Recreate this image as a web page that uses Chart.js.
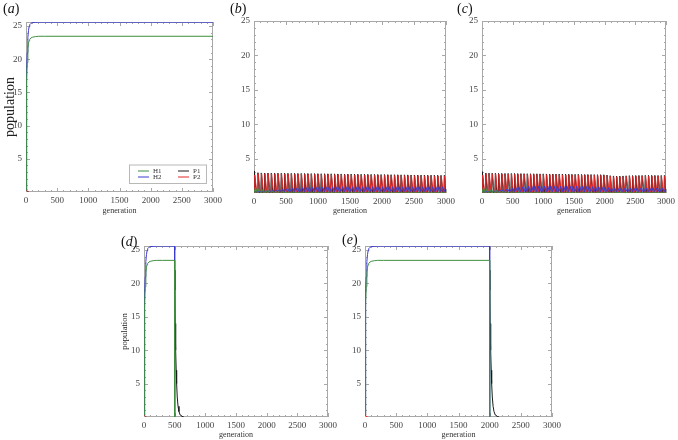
<!DOCTYPE html>
<html>
<head>
<meta charset="utf-8">
<script src="https://cdn.jsdelivr.net/npm/chart.js@4.4.1/dist/chart.umd.min.js"></script>
<style>
  body { margin: 0; background: #fff; width: 678px; height: 440px; position: relative; overflow: hidden; }
  .panel { position: absolute; }
  .tag { position: absolute; font: 14px "Liberation Serif", serif; color: #111; line-height: 1; }
</style>
</head>
<body>
<div class="panel" style="left:0;top:0;width:226px;height:216px"><canvas id="ca"></canvas></div>
<div class="panel" style="left:226px;top:0;width:232px;height:216px"><canvas id="cb"></canvas></div>
<div class="panel" style="left:458px;top:0;width:220px;height:216px"><canvas id="cc"></canvas></div>
<div class="panel" style="left:110px;top:216px;width:230px;height:224px"><canvas id="cd"></canvas></div>
<div class="panel" style="left:340px;top:216px;width:230px;height:224px"><canvas id="ce"></canvas></div>
<span class="tag" style="left:3px;top:2px">(<i>a</i>)</span>
<span class="tag" style="left:230px;top:2px">(<i>b</i>)</span>
<span class="tag" style="left:457px;top:2px">(<i>c</i>)</span>
<span class="tag" style="left:121px;top:235px">(<i>d</i>)</span>
<span class="tag" style="left:342px;top:233px">(<i>e</i>)</span>
<script>
// axis ticks
const xMajor = [0, 500, 1000, 1500, 2000, 2500, 3000];
const xMinor = [100, 200, 300, 400, 600, 700, 800, 900, 1100, 1200, 1300, 1400, 1600, 1700, 1800, 1900, 2100, 2200, 2300, 2400, 2600, 2700, 2800, 2900];
const yMajor = [5, 10, 15, 20, 25];
const yMinor = [1, 2, 3, 4, 6, 7, 8, 9, 11, 12, 13, 14, 16, 17, 18, 19, 21, 22, 23, 24];

// panel (a): approach to equilibrium
const genA = [0, 5, 10, 15, 20, 30, 40, 50, 60, 80, 100, 150, 200, 300, 3000];
const h1A = [0.3, 8, 13.5, 17, 19.5, 21.6, 22.4, 22.8, 23.0, 23.2, 23.3, 23.4, 23.45, 23.45, 23.45];
const h2A = [0.3, 9, 15, 18.5, 21, 23.3, 24.3, 24.9, 25.2, 25.4, 25.5, 25.55, 25.58, 25.58, 25.58];
const genP = [0, 5, 10, 15, 20, 30, 40];
const p1A = [0.3, 0.4, 0.3, 0.2, 0.1, 0.05, 0];
const p2A = [0.3, 0.4, 0.3, 0.2, 0.1, 0.05, 0];

// panels (d) and (e): hosts removed at a given generation
const genD = [0, 5, 10, 15, 20, 30, 40, 50, 60, 80, 100, 150, 200, 300, 500, 500];
const h1D = [0.3, 8, 13.5, 17, 19.5, 21.6, 22.4, 22.8, 23.0, 23.2, 23.3, 23.4, 23.45, 23.45, 23.45, 0];
const h2D = [0.3, 9, 15, 18.5, 21, 23.3, 24.3, 24.9, 25.2, 25.4, 25.5, 25.55, 25.58, 25.58, 25.58, 0];
const blackGenD = [500, 503, 508, 516, 525, 532, 542, 555, 570, 590, 620, 650];
const blackD = [22, 19, 14, 10, 7, 5, 3, 1.6, 0.8, 0.3, 0.1, 0];
const genE = [0, 5, 10, 15, 20, 30, 40, 50, 60, 80, 100, 150, 200, 300, 2000, 2000];
const blackGenE = [2000, 2003, 2008, 2016, 2025, 2032, 2042, 2055, 2070, 2090, 2120, 2150];

// panels (b) and (c): oscillation peaks per cycle
const peakGen = [10, 62, 114, 166, 218, 270, 322, 374, 426, 478, 530, 582, 634, 686, 738, 790, 842, 894, 946, 998,
  1050, 1102, 1154, 1206, 1258, 1310, 1362, 1414, 1466, 1518, 1570, 1622, 1674, 1726, 1778, 1830, 1882, 1934, 1986,
  2038, 2090, 2142, 2194, 2246, 2298, 2350, 2402, 2454, 2506, 2558, 2610, 2662, 2714, 2766, 2818, 2870, 2922, 2974];
const bP1 = [3.2, 2.95, 2.92, 2.9, 2.9, 2.89, 2.88, 2.88, 2.87, 2.87, 2.86, 2.85, 2.85, 2.84, 2.84, 2.83, 2.83, 2.82, 2.82, 2.81,
  2.8, 2.8, 2.79, 2.79, 2.78, 2.77, 2.77, 2.76, 2.75, 2.75, 2.74, 2.73, 2.72, 2.72, 2.71, 2.7, 2.7, 2.69, 2.68, 2.68,
  2.67, 2.66, 2.66, 2.65, 2.64, 2.64, 2.63, 2.62, 2.62, 2.61, 2.6, 2.6, 2.59, 2.59, 2.58, 2.58, 2.57, 2.57];
const bP2 = [2.6, 2.8, 2.82, 2.8, 2.8, 2.79, 2.78, 2.78, 2.77, 2.77, 2.76, 2.75, 2.75, 2.74, 2.74, 2.73, 2.73, 2.72, 2.72, 2.71,
  2.7, 2.7, 2.69, 2.69, 2.68, 2.67, 2.67, 2.66, 2.65, 2.65, 2.64, 2.63, 2.62, 2.62, 2.61, 2.6, 2.6, 2.59, 2.58, 2.58,
  2.57, 2.56, 2.56, 2.55, 2.54, 2.54, 2.53, 2.52, 2.52, 2.51, 2.5, 2.5, 2.49, 2.49, 2.48, 2.48, 2.47, 2.47];
const bH1 = [0.8, 0.6, 0.5, 0.42, 0.36, 0.3, 0.26, 0.22, 0.19, 0.16, 0.14, 0.12, 0.1, 0.09, 0.08, 0.07, 0.06, 0.05, 0.05, 0.05,
  0.05, 0.05, 0.05, 0.05, 0.05, 0.05, 0.05, 0.05, 0.05, 0.05, 0.05, 0.05, 0.05, 0.05, 0.05, 0.05, 0.05, 0.05, 0.05, 0.05,
  0.05, 0.05, 0.05, 0.05, 0.05, 0.05, 0.05, 0.05, 0.05, 0.05, 0.05, 0.05, 0.05, 0.05, 0.05, 0.05, 0.05, 0.05];
const bH2 = [0.15, 0.2, 0.25, 0.3, 0.35, 0.4, 0.45, 0.5, 0.55, 0.6, 0.65, 0.7, 0.72, 0.75, 0.78, 0.8, 0.82, 0.84, 0.85, 0.86,
  0.87, 0.88, 0.88, 0.89, 0.89, 0.9, 0.9, 0.9, 0.9, 0.9, 0.9, 0.9, 0.9, 0.9, 0.9, 0.9, 0.9, 0.9, 0.9, 0.9,
  0.9, 0.9, 0.9, 0.9, 0.9, 0.9, 0.9, 0.9, 0.9, 0.9, 0.9, 0.9, 0.9, 0.9, 0.9, 0.9, 0.9, 0.9];
const cP1 = [3.1, 2.9, 2.88, 2.87, 2.86, 2.85, 2.85, 2.84, 2.84, 2.83, 2.83, 2.82, 2.82, 2.81, 2.8, 2.8, 2.79, 2.79, 2.78, 2.78,
  2.77, 2.76, 2.76, 2.75, 2.75, 2.74, 2.73, 2.73, 2.72, 2.71, 2.71, 2.7, 2.69, 2.69, 2.68, 2.67, 2.66, 2.66, 2.65, 2.6,
  2.52, 2.48, 2.46, 2.46, 2.48, 2.5, 2.52, 2.53, 2.54, 2.55, 2.55, 2.56, 2.56, 2.56, 2.56, 2.55, 2.55, 2.55];
const cP2 = [2.6, 2.8, 2.78, 2.77, 2.76, 2.75, 2.75, 2.74, 2.74, 2.73, 2.73, 2.72, 2.72, 2.71, 2.7, 2.7, 2.69, 2.69, 2.68, 2.68,
  2.67, 2.66, 2.66, 2.65, 2.65, 2.64, 2.63, 2.63, 2.62, 2.61, 2.61, 2.6, 2.59, 2.59, 2.58, 2.57, 2.56, 2.56, 2.55, 2.5,
  2.42, 2.38, 2.36, 2.36, 2.38, 2.4, 2.42, 2.43, 2.44, 2.45, 2.45, 2.46, 2.46, 2.46, 2.46, 2.45, 2.45, 2.45];
const cH1 = [0.8, 0.6, 0.5, 0.42, 0.36, 0.3, 0.26, 0.22, 0.19, 0.16, 0.14, 0.12, 0.1, 0.09, 0.08, 0.07, 0.06, 0.05, 0.05, 0.05,
  0.05, 0.05, 0.05, 0.05, 0.05, 0.05, 0.05, 0.05, 0.05, 0.05, 0.05, 0.05, 0.05, 0.05, 0.05, 0.05, 0.05, 0.05, 0.05, 0.08,
  0.12, 0.15, 0.16, 0.15, 0.13, 0.1, 0.08, 0.07, 0.06, 0.06, 0.06, 0.06, 0.06, 0.06, 0.06, 0.06, 0.06, 0.06];
const cH2 = [0.15, 0.2, 0.25, 0.3, 0.35, 0.42, 0.5, 0.58, 0.65, 0.72, 0.78, 0.84, 0.88, 0.92, 0.95, 0.97, 0.99, 1.0, 1.0, 1.0,
  1.0, 1.0, 1.0, 1.0, 1.0, 1.0, 1.0, 1.0, 1.0, 1.0, 1.0, 0.98, 0.96, 0.94, 0.92, 0.9, 0.88, 0.85, 0.82, 0.78,
  0.72, 0.68, 0.66, 0.66, 0.67, 0.68, 0.69, 0.7, 0.7, 0.7, 0.7, 0.7, 0.7, 0.7, 0.7, 0.7, 0.7, 0.7];

const colors = { H1: '#3f8f3f', H2: '#3a3ad0', P1: '#1a1a1a', P2: '#e02828' };
const serif = '"Liberation Serif", "DejaVu Serif", serif';

function pts(xs, ys) { return xs.map((x, i) => ({ x, y: ys[i] })); }

// one spike per cycle: trough before, peak, trough after
function spikes(gens, heights, rise, shift, fall, base) {
  const out = [{ x: 0, y: base }];
  gens.forEach((g, i) => {
    out.push({ x: g + shift - rise, y: base }, { x: g + shift, y: heights[i] }, { x: g + shift + fall, y: base });
  });
  out.push({ x: 3000, y: base });
  return out;
}

function series(h1, h2, p1, p2) {
  return [
    { label: 'H1', data: h1, borderColor: colors.H1, order: 0 },
    { label: 'H2', data: h2, borderColor: colors.H2, order: 1 },
    { label: 'P1', data: p1, borderColor: colors.P1, order: 3 },
    { label: 'P2', data: p2, borderColor: colors.P2, order: 2 }
  ];
}

const framePlugin = {
  id: 'frame',
  beforeDatasetsDraw(chart) {
    const { ctx, chartArea: a, scales: { x, y } } = chart;
    ctx.save();
    ctx.strokeStyle = '#a8a8a8';
    ctx.lineWidth = 1;
    ctx.strokeRect(Math.round(a.left) + 0.5, Math.round(a.top) + 0.5, Math.round(a.width) - 1, Math.round(a.height) - 1);
    ctx.beginPath();
    const tx = (v, len) => {
      const px = Math.round(x.getPixelForValue(v)) + 0.5;
      ctx.moveTo(px, a.bottom); ctx.lineTo(px, a.bottom - len);
      ctx.moveTo(px, a.top); ctx.lineTo(px, a.top + len);
    };
    const ty = (v, len) => {
      const py = Math.round(y.getPixelForValue(v)) + 0.5;
      ctx.moveTo(a.left, py); ctx.lineTo(a.left + len, py);
      ctx.moveTo(a.right, py); ctx.lineTo(a.right - len, py);
    };
    xMajor.forEach(v => tx(v, 4));
    xMinor.forEach(v => tx(v, 2));
    yMajor.forEach(v => { if (v <= y.max) ty(v, 4); });
    yMinor.forEach(v => ty(v, 2));
    ctx.stroke();
    ctx.restore();
  }
};

// two-column boxed legend, lower right of panel (a)
const legendPlugin = {
  id: 'boxLegend',
  afterDraw(chart) {
    const { ctx, chartArea: a } = chart;
    const ds = chart.data.datasets;
    const bx = a.right - 84, by = a.bottom - 27.5, bw = 77, bh = 18.5;
    ctx.save();
    ctx.fillStyle = '#fff';
    ctx.fillRect(bx, by, bw, bh);
    ctx.strokeStyle = '#b8b8b8';
    ctx.lineWidth = 1;
    ctx.strokeRect(bx + 0.5, by + 0.5, bw, bh);
    ctx.font = '7px ' + serif;
    ctx.textBaseline = 'middle';
    ds.forEach((d, i) => {
      const col = Math.floor(i / 2), row = i % 2;
      const lx = bx + 9 + col * 40, ly = by + 6.5 + row * 6;
      ctx.strokeStyle = d.borderColor;
      ctx.beginPath(); ctx.moveTo(lx, ly); ctx.lineTo(lx + 11, ly); ctx.stroke();
      ctx.fillStyle = '#333';
      ctx.fillText(d.label, lx + 15, ly);
    });
    ctx.restore();
  }
};

function makePanel(id, datasets, o) {
  const plugins = [framePlugin];
  if (o.legend) plugins.push(legendPlugin);
  new Chart(document.getElementById(id), {
    type: 'line',
    data: { datasets },
    options: {
      responsive: true,
      maintainAspectRatio: false,
      animation: false,
      layout: { padding: { top: o.top, right: o.right, left: 0, bottom: 0 } },
      elements: { point: { radius: 0 }, line: { borderWidth: 1, tension: 0 } },
      plugins: { legend: { display: false }, tooltip: { enabled: false } },
      scales: {
        x: {
          type: 'linear', min: 0, max: 3000,
          grid: { display: false, drawTicks: false }, border: { display: false },
          afterBuildTicks: s => { s.ticks = xMajor.map(v => ({ value: v })); },
          afterFit: s => { s.height = o.xh; },
          ticks: { font: { family: serif, size: 9 }, color: '#444', padding: 3, maxRotation: 0, autoSkip: false, callback: v => String(v) },
          title: { display: true, text: 'generation', color: '#333', font: { family: serif, size: 8 }, padding: { top: 0, bottom: 0 } }
        },
        y: {
          type: 'linear', min: 0, max: o.ymax,
          grid: { display: false, drawTicks: false }, border: { display: false },
          afterBuildTicks: s => { s.ticks = yMajor.map(v => ({ value: v })); },
          afterFit: s => { s.width = o.yw; },
          ticks: { font: { family: serif, size: 9 }, color: '#444', padding: 4, callback: v => String(v) },
          title: o.ytitle ? { display: true, text: 'population', color: '#222', font: { family: serif, size: o.ytitle.size }, padding: { top: o.ytitle.pad, bottom: 0 } } : { display: false }
        }
      }
    },
    plugins
  });
}

makePanel('ca', series(pts(genA, h1A), pts(genA, h2A), pts(genP, p1A), pts(genP, p2A)),
  { top: 22, right: 13, xh: 24, yw: 26, ymax: 25.6, legend: true, ytitle: { size: 14, pad: 2 } });

makePanel('cb', series(
    spikes(peakGen, bH1, 15, 15, 25, 0.02),
    spikes(peakGen, bH2, 20, 22, 28, 0.2),
    spikes(peakGen, bP1, 8, 0, 24, 0.03),
    spikes(peakGen, bP2, 8, 5, 30, 0.03)),
  { top: 21, right: 5, xh: 23, yw: 28, ymax: 25 });

makePanel('cc', series(
    spikes(peakGen, cH1, 15, 15, 25, 0.02),
    spikes(peakGen, cH2, 20, 22, 28, 0.2),
    spikes(peakGen, cP1, 8, 0, 24, 0.03),
    spikes(peakGen, cP2, 8, 5, 30, 0.03)),
  { top: 21, right: 8, xh: 23, yw: 24, ymax: 25 });

makePanel('cd', series(pts(genD, h1D), pts(genD, h2D), pts(blackGenD, blackD), pts(genP, p2A)),
  { top: 30, right: 9, xh: 23, yw: 34, ymax: 25.6, ytitle: { size: 8.5, pad: 10 } });

makePanel('ce', series(pts(genE, h1D), pts(genE, h2D), pts(blackGenE, blackD), pts(genP, p2A)),
  { top: 30, right: 18, xh: 23, yw: 25, ymax: 25.6 });
</script>
</body>
</html>
